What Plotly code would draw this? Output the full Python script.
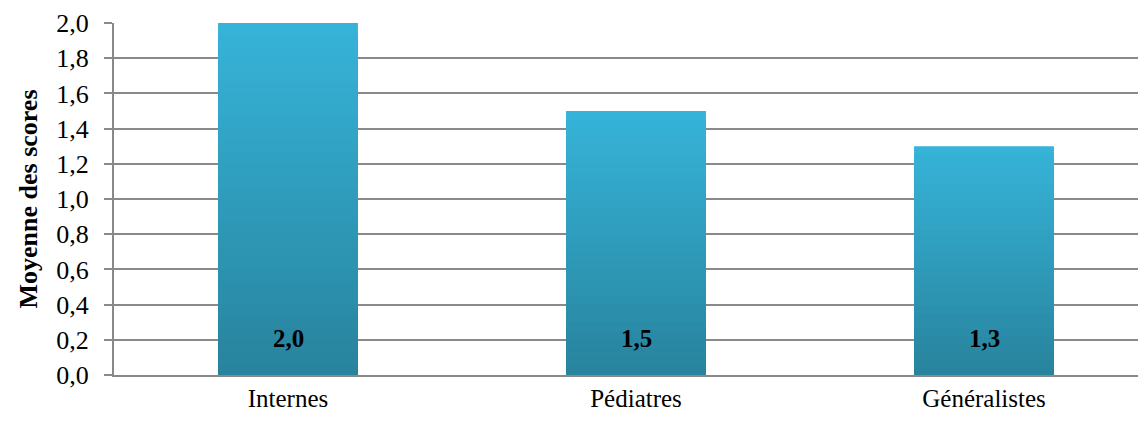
import plotly.graph_objects as go

# Data
categories = ["Internes", "Pédiatres", "Généralistes"]
scores = [2.0, 1.5, 1.3]
score_labels = ["2,0", "1,5", "1,3"]

TOP_COLOR = (54, 179, 216)
BOTTOM_COLOR = (40, 132, 158)
STEPS = 30

fig = go.Figure()

# vertical gradient faked with overlaid bars of decreasing height
for i in range(STEPS):
    f = 1 - i / STEPS
    t = i / (STEPS - 1)
    c = tuple(round(TOP_COLOR[k] + (BOTTOM_COLOR[k] - TOP_COLOR[k]) * t) for k in range(3))
    fig.add_trace(go.Bar(
        x=categories,
        y=[v * f for v in scores],
        width=0.402,
        marker=dict(color="rgb(%d,%d,%d)" % c, line=dict(width=0)),
        showlegend=False,
        hoverinfo="skip" if i else "x+y",
    ))

for cat, lab in zip(categories, score_labels):
    fig.add_annotation(
        x=cat, y=0, yanchor="bottom", yshift=21, text="<b>%s</b>" % lab,
        showarrow=False, font=dict(size=25, color="black"),
    )

fig.update_layout(
    width=1130,
    height=409,
    barmode="overlay",
    separators=",.",
    paper_bgcolor="white",
    plot_bgcolor="white",
    margin=dict(l=106, r=0, t=15, b=42),
    font=dict(family="Liberation Serif", size=25, color="black"),
    showlegend=False,
)
fig.update_xaxes(
    range=[-0.5, 2.4425],
    showgrid=False,
    showline=True, linecolor="#898989", linewidth=2,
    ticks="", tickfont=dict(size=25),
)
fig.update_yaxes(
    range=[0, 2.0],
    dtick=0.2,
    tickformat=".1f",
    showgrid=True, gridcolor="#898989", gridwidth=1.5,
    showline=True, linecolor="#898989", linewidth=2,
    ticks="outside", ticklen=8, tickcolor="#898989", tickwidth=1.5,
    ticklabelstandoff=10,
    zeroline=False,
    tickfont=dict(size=26),
    title=dict(text="<b>Moyenne des scores</b>", font=dict(size=26), standoff=11),
)

fig.write_html("out.html")
